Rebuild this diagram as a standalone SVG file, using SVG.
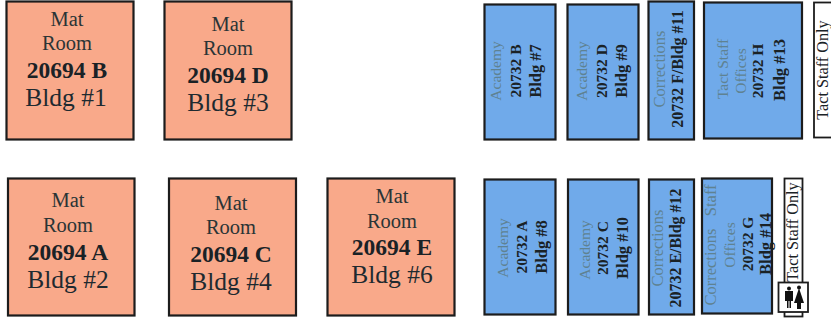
<svg xmlns="http://www.w3.org/2000/svg" width="831" height="322" viewBox="0 0 831 322">
<style>
.o{fill:#f9a98a;stroke:#1c1c1c;stroke-width:2.200}
.b{fill:#70aaea;stroke:#1c1c1c;stroke-width:2.200}
.w{fill:#fff;stroke:#1c1c1c;stroke-width:1.800}
text{font-family:"Liberation Serif",serif;text-anchor:middle;fill:#1a2226}
.m{font-size:20.500px;fill:#2a3436}
.n{font-size:23.500px;font-weight:bold}
.g{font-size:25.500px;fill:#1e2a30}
.a{font-size:15.500px;fill:#5f8291}
.c{font-size:15.500px;font-weight:bold}
.d{font-size:16.500px;font-weight:bold}
.e{font-size:16px;font-weight:bold}
.t{font-size:16.200px}
</style>
<rect width="831" height="322" fill="#fff"/>
<g id="bldg1"><rect class="o" x="6.500" y="1.500" width="127" height="138"/><text class="m" x="67" y="26">Mat</text><text class="m" x="67" y="50">Room</text><text class="n" x="67" y="78">20694 B</text><text class="g" x="66" y="106">Bldg #1</text></g>
<g id="bldg3"><rect class="o" x="164.500" y="1.500" width="127" height="138"/><text class="m" x="228" y="31">Mat</text><text class="m" x="228" y="55">Room</text><text class="n" x="228" y="83">20694 D</text><text class="g" x="228" y="111">Bldg #3</text></g>
<g id="bldg2"><rect class="o" x="8" y="178.500" width="126.500" height="137"/><text class="m" x="68" y="207">Mat</text><text class="m" x="68" y="232">Room</text><text class="n" x="68" y="260">20694 A</text><text class="g" x="68" y="288">Bldg #2</text></g>
<g id="bldg4"><rect class="o" x="169" y="178.500" width="127" height="137"/><text class="m" x="231" y="210">Mat</text><text class="m" x="231" y="234">Room</text><text class="n" x="231" y="262">20694 C</text><text class="g" x="231" y="290">Bldg #4</text></g>
<g id="bldg6"><rect class="o" x="327.500" y="178.500" width="127" height="137"/><text class="m" x="392" y="203">Mat</text><text class="m" x="392" y="228">Room</text><text class="n" x="392" y="255">20694 E</text><text class="g" x="392" y="283">Bldg #6</text></g>
<g id="bldg7"><rect class="b" x="484.500" y="4.500" width="71" height="135"/><text class="a" transform="translate(501 71) rotate(-90)">Academy</text><text class="c" transform="translate(521 71) rotate(-90)">20732 B</text><text class="d" transform="translate(541 71) rotate(-90)">Bldg #7</text></g>
<g id="bldg9"><rect class="b" x="567.500" y="4.500" width="71" height="135"/><text class="a" transform="translate(587 71) rotate(-90)">Academy</text><text class="c" transform="translate(607 71) rotate(-90)">20732 D</text><text class="d" transform="translate(627 71) rotate(-90)">Bldg #9</text></g>
<g id="bldg11"><rect class="b" x="648.500" y="1.500" width="45.500" height="138"/><text class="a" style="font-size:16.500px" transform="translate(665 69) rotate(-90)">Corrections</text><text class="e" transform="translate(683 69) rotate(-90)">20732 F/Bldg #11</text></g>
<g id="bldg13"><rect class="b" x="704" y="2.500" width="98" height="136"/><text class="a" transform="translate(728 69) rotate(-90)">Tact Staff</text><text class="a" transform="translate(746 71) rotate(-90)">Offices</text><text class="c" transform="translate(763 71) rotate(-90)">20732 H</text><text class="d" transform="translate(785 70) rotate(-90)">Bldg #13</text></g>
<g id="tact1"><rect class="w" x="814" y="2.500" width="20" height="135"/><text class="t" transform="translate(828 70) rotate(-90)">Tact Staff Only</text></g>
<g id="bldg8"><rect class="b" x="484.500" y="179.500" width="71" height="135"/><text class="a" transform="translate(508 248) rotate(-90)">Academy</text><text class="c" transform="translate(527 247) rotate(-90)">20732 A</text><text class="d" transform="translate(547 247) rotate(-90)">Bldg #8</text></g>
<g id="bldg10"><rect class="b" x="568" y="179.500" width="70.500" height="135"/><text class="a" transform="translate(590 250) rotate(-90)">Academy</text><text class="c" transform="translate(608 248) rotate(-90)">20732 C</text><text class="d" transform="translate(628 248) rotate(-90)">Bldg #10</text></g>
<g id="bldg12"><rect class="b" x="649" y="179.500" width="45" height="135"/><text class="a" style="font-size:16.500px" transform="translate(663 248) rotate(-90)">Corrections</text><text class="e" transform="translate(681 248) rotate(-90)">20732 E/Bldg #12</text></g>
<g id="bldg14"><rect class="b" x="702" y="178.500" width="70" height="135"/><text class="a" style="font-size:16.500px" xml:space="preserve" transform="translate(716 245) rotate(-90)">Corrections   Staff</text><text class="a" transform="translate(735 245) rotate(-90)">Offices</text><text class="c" transform="translate(753 244) rotate(-90)">20732 G</text><text class="d" transform="translate(771 244) rotate(-90)">Bldg #14</text></g>
<g id="tact2"><rect class="w" x="784.500" y="178.500" width="18" height="138"/><text class="t" transform="translate(798 232) rotate(-90)">Tact Staff Only</text><rect class="w" x="778.500" y="282.500" width="29.500" height="29.500"/><path d="M785 291h8v10h-2v7h-1.500v-7h-1v7h-1.500v-7h-2z" fill="#111"/><path d="M799 288l3 9l2 6h-3v6h-4v-6h-3l2-6z" fill="#111"/><circle cx="789" cy="288.500" r="2" fill="#111"/><circle cx="799" cy="287.500" r="2" fill="#111"/></g>
<g id="connectors"></g>
</svg>
